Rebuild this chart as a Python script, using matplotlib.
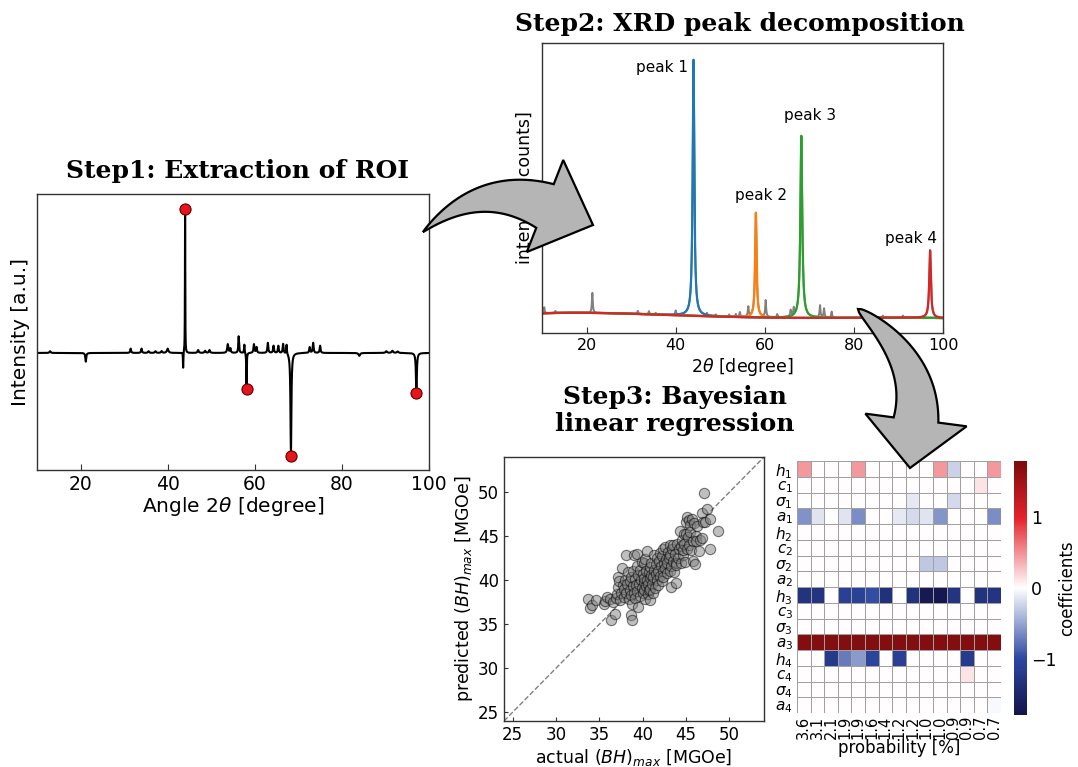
import numpy as np
import matplotlib
matplotlib.use("Agg")
import matplotlib.pyplot as plt
from matplotlib.path import Path
from matplotlib.patches import PathPatch
from matplotlib.colors import LinearSegmentedColormap

W, H, DPI = 1078, 767, 100

# ---------------- Step 1: extracted ROI signal ----------------
# signed peaks: centre [deg], amplitude [a.u.], half-width [deg]
roi_centers = [13.0, 21.2, 31.5, 34.0, 35.6, 37.2, 38.6, 40.0, 43.55, 44.0, 47.0,
               48.6, 49.6, 53.8, 54.4, 56.3, 57.6, 58.1, 59.8, 60.4, 63.0, 64.3,
               65.4, 66.5, 67.3, 68.3, 72.6, 73.4, 75.0, 84.0, 90.2, 91.6, 92.8, 97.1]
roi_amps = [0.012, -0.06, 0.03, 0.03, 0.012, 0.012, 0.012, 0.03, -0.11, 1.0, 0.02,
            0.015, 0.02, 0.06, 0.03, 0.115, 0.06, -0.25, 0.06, 0.04, 0.07, 0.05,
            0.05, 0.065, 0.065, -0.715, 0.04, 0.07, 0.05, -0.02, 0.012, 0.015, 0.01, -0.28]
roi_widths = [0.15, 0.12, 0.12, 0.12, 0.15, 0.15, 0.15, 0.2, 0.05, 0.04, 0.15,
              0.15, 0.15, 0.15, 0.12, 0.1, 0.08, 0.06, 0.12, 0.12, 0.12, 0.12,
              0.12, 0.12, 0.08, 0.12, 0.12, 0.12, 0.12, 0.2, 0.2, 0.2, 0.2, 0.12]
roi_selected = [44.0, 58.1, 68.3, 97.1]

# ---------------- Step 2: XRD pattern and fitted peaks ----------------
bg_knots_x = [10, 20, 28, 40, 55, 70, 85, 100]
bg_knots_y = [196, 203, 198, 172, 160, 154, 150, 150]
peak_names = ["peak 1", "peak 2", "peak 3", "peak 4"]
peak_centers = [44.0, 58.0, 68.2, 97.1]
peak_heights = [2560, 1045, 1820, 675]
peak_widths = [0.22, 0.2, 0.25, 0.22]
peak_colors = ["#1f77b4", "#ff7f0e", "#2ca02c", "#d62728"]
minor_centers = [10.5, 13.0, 21.3, 31.5, 34.0, 35.5, 40.0, 47.0, 49.0, 52.0, 53.5,
                 54.4, 56.3, 60.2, 62.8, 65.8, 66.5, 72.4, 73.3, 75.0, 83.8, 86.5, 91.0]
minor_heights = [60, 20, 200, 30, 30, 15, 40, 20, 15, 20, 25,
                 45, 95, 165, 30, 60, 70, 120, 90, 60, 30, 20, 20]

# ---------------- Step 3: regression ----------------
actual_bh = [33.7, 33.9, 34.2, 34.6, 35.5, 35.6, 35.9, 36.2, 36.4, 36.6, 36.8, 36.9, 37.0,
             37.1, 37.1, 37.3, 37.4, 37.5, 37.6, 37.7, 37.8, 37.9, 38.0, 38.1, 38.1, 38.2,
             38.3, 38.4, 38.5, 38.5, 38.6, 38.7, 38.7, 38.8, 38.8, 38.9, 38.9, 39.0, 39.0,
             39.1, 39.1, 39.2, 39.3, 39.3, 39.4, 39.5, 39.5, 39.6, 39.7, 39.7, 39.8, 39.9,
             39.9, 40.0, 40.0, 40.1, 40.1, 40.2, 40.2, 40.3, 40.3, 40.4, 40.4, 40.5, 40.5,
             40.6, 40.6, 40.7, 40.7, 40.8, 40.8, 40.9, 40.9, 41.0, 41.0,
             41.1, 41.2, 41.2, 41.3, 41.3, 41.4, 41.5, 41.5, 41.6, 41.7, 41.8, 41.8, 41.9,
             42.0, 42.0, 42.1, 42.2, 42.2, 42.3, 42.4, 42.4, 42.5, 42.6, 42.6, 42.7, 42.8,
             42.8, 42.9, 43.0,
             43.1, 43.1, 43.2, 43.3, 43.3, 43.4, 43.5, 43.5, 43.6, 43.7, 43.8, 43.8, 43.9,
             44.0, 44.1, 44.2, 44.3, 44.4, 44.4, 44.5, 44.6, 44.7, 44.8, 44.8, 44.9, 45.0,
             45.0, 45.1, 45.1, 45.2, 45.3, 45.4, 45.5, 45.5, 45.6, 45.7, 45.8, 45.8, 45.9,
             46.0, 46.1, 46.2, 46.3, 46.5, 46.6, 46.9, 46.9, 47.0, 47.1, 47.2, 47.4, 47.8,
             47.8, 48.7]
predicted_bh = [37.9, 36.8, 37.2, 37.8, 37.3, 37.6, 38.1, 37.9, 35.5, 37.5, 36.2, 38.0, 38.4,
                39.2, 40.4, 39.9, 37.7, 38.6, 41.4, 39.4, 38.1, 39.0, 40.0, 38.5, 42.9, 39.6,
                40.9, 37.9, 38.9, 39.9, 38.3, 40.4, 36.1, 37.3, 35.5, 39.3, 41.0, 42.9, 38.6,
                40.1, 38.0, 39.4, 41.6, 43.0, 38.8, 40.6, 37.0, 39.6, 38.2, 41.2, 40.0, 39.1,
                42.1, 38.6, 40.7, 39.8, 41.9, 38.9, 40.3, 42.4, 37.9, 39.3, 41.1, 43.3, 40.0,
                38.4, 39.6, 40.9, 38.9, 41.5, 37.8, 40.2, 39.0, 40.6, 42.0,
                39.6, 38.5, 40.4, 42.9, 41.2, 39.1, 40.7, 41.8, 40.0, 42.5, 39.4, 41.0, 42.2,
                40.5, 43.1, 41.6, 39.9, 42.7, 41.1, 43.5, 40.4, 42.0, 41.4, 43.8, 42.4, 40.8,
                41.9, 43.2, 42.5,
                41.0, 44.0, 42.9, 41.6, 39.2, 43.6, 42.2, 44.0, 40.9, 43.0, 39.7, 42.0, 41.7,
                44.1, 42.5, 43.5, 45.6, 41.9, 43.9, 44.6, 42.9, 43.4, 45.3, 44.1, 42.1, 46.6,
                45.2, 43.5, 47.2, 44.9, 46.8, 44.0, 46.3, 45.5, 43.4, 46.9, 44.5, 42.2, 46.5,
                41.8, 45.0, 44.4, 46.2, 43.3, 44.6, 44.8, 47.6, 46.6, 49.9, 46.6, 48.1, 47.0,
                43.6, 45.6]

# posterior coefficients per candidate model (columns, sorted by probability)
prob_labels = ["3.6", "3.1", "2.1", "1.9", "1.9", "1.6", "1.4", "1.2", "1.2",
               "1.0", "1.0", "0.9", "0.9", "0.7", "0.7"]
param_labels = [r"$h_1$", r"$c_1$", r"$\sigma_1$", r"$a_1$",
                r"$h_2$", r"$c_2$", r"$\sigma_2$", r"$a_2$",
                r"$h_3$", r"$c_3$", r"$\sigma_3$", r"$a_3$",
                r"$h_4$", r"$c_4$", r"$\sigma_4$", r"$a_4$"]
coef_h1 = [0.45, 0, 0, 0, 0.45, 0, 0, 0, 0, 0, 0.45, -0.25, 0, 0, 0.45]
coef_c1 = [0, 0, 0, 0, 0, 0, 0, 0, 0, 0, 0, 0, 0, 0.12, 0]
coef_s1 = [0, 0, 0, 0, 0, 0, 0, 0, -0.12, 0, 0, -0.2, 0, 0, 0]
coef_a1 = [-0.6, -0.15, 0, -0.15, -0.62, 0, 0, -0.12, -0.2, -0.15, -0.58, 0, 0, 0, -0.62]
coef_h2 = [0] * 15
coef_c2 = [0] * 15
coef_s2 = [0, 0, 0, 0, 0, 0, 0, 0, 0, -0.3, -0.3, 0, 0, 0, 0]
coef_a2 = [0] * 15
coef_h3 = [-1.32, -1.3, 0, -1.12, -1.1, -0.98, -1.35, 0, -1.33, -1.72, -1.75, -1.28, 0, -1.32, -1.28]
coef_c3 = [0] * 15
coef_s3 = [0] * 15
coef_a3 = [1.72] * 15
coef_h4 = [0, 0, -1.22, -0.72, -0.55, -1.05, 0, -1.12, 0, 0, 0, 0, -1.2, 0, 0]
coef_c4 = [0, 0, 0, 0, 0, 0, 0, 0, 0, 0, 0, 0, 0.12, 0, 0]
coef_s4 = [0] * 15
coef_a4 = [0, 0, 0, 0, 0, 0, 0, 0, 0, 0, 0, 0, 0, 0, -0.04]


def lorentz(x, c, a, w):
    return a / (1.0 + ((x - c) / w) ** 2)


def px_box(left, top, right, bottom):
    return [left / W, 1 - bottom / H, (right - left) / W, (bottom - top) / H]


TITLE = dict(family="DejaVu Serif", fontweight="bold", fontsize=18, ha="center",
             va="baseline")
SPINE = "#333333"

fig = plt.figure(figsize=(W / DPI, H / DPI), dpi=DPI)
fig.patch.set_facecolor("white")


def style_spines(ax):
    for s in ax.spines.values():
        s.set_color(SPINE)
        s.set_linewidth(1.0)


# ---------- Step 1 ----------
x1 = np.round(np.arange(10.0, 100.0001, 0.01), 2)
roi = np.zeros_like(x1)
for c, a, w in zip(roi_centers, roi_amps, roi_widths):
    roi += lorentz(x1, c, a, w)
ax1 = fig.add_axes(px_box(37, 194, 429, 470))
ax1.plot(x1, roi, color="black", lw=1.5, zorder=2)
sel_idx = [int(np.argmin(np.abs(x1 - c))) for c in roi_selected]
ax1.plot(x1[sel_idx], roi[sel_idx], "o", ms=8, mfc="#e8141c", mec="#5a0000",
         mew=0.8, zorder=3, clip_on=False)
ax1.set_xlim(10, 100)
ax1.set_ylim(-0.81, 1.10)
ax1.set_yticks([])
ax1.set_xticks([20, 40, 60, 80, 100])
ax1.tick_params(axis="x", direction="in", length=4, labelsize=13.5, color=SPINE)
ax1.set_xlabel(r"Angle 2$\theta$ [degree]", fontsize=14.5, labelpad=1)
ax1.set_ylabel("Intensity [a.u.]", fontsize=14.5, labelpad=5)
style_spines(ax1)
fig.text(237 / W, 1 - 178 / H, "Step1: Extraction of ROI", **TITLE)

# ---------- Step 2 ----------
x2 = np.arange(10.0, 100.0001, 0.02)
bg_coef = np.polyfit(bg_knots_x, bg_knots_y, 4)
bg = np.polyval(bg_coef, x2)
observed = bg.copy()
for c, h, w in zip(peak_centers, peak_heights, peak_widths):
    observed += lorentz(x2, c, h, w)
for c, h in zip(minor_centers, minor_heights):
    observed += lorentz(x2, c, h, 0.12)
ax2 = fig.add_axes(px_box(542, 43, 943, 333))
ax2.plot(x2, observed, color="gray", lw=1.4, zorder=1)
for c, h, w, col in zip(peak_centers, peak_heights, peak_widths, peak_colors):
    ax2.plot(x2, bg + lorentz(x2, c, h, w), color=col, lw=1.6, zorder=2)
bg_at = [float(np.polyval(bg_coef, c)) for c in peak_centers]
label_fs = 11
ax2.text(peak_centers[0] - 1.3, bg_at[0] + peak_heights[0], peak_names[0],
         ha="right", va="top", fontsize=label_fs)
ax2.text(peak_centers[1] + 1.2, bg_at[1] + peak_heights[1] + 100, peak_names[1],
         ha="center", va="bottom", fontsize=label_fs)
ax2.text(peak_centers[2] + 1.9, bg_at[2] + peak_heights[2] + 130, peak_names[2],
         ha="center", va="bottom", fontsize=label_fs)
ax2.text(peak_centers[3] + 1.5, bg_at[3] + peak_heights[3] + 40, peak_names[3],
         ha="right", va="bottom", fontsize=label_fs)
ax2.set_xlim(10, 100)
ax2.set_ylim(0, 2900)
ax2.set_yticks([])
ax2.set_xticks([20, 40, 60, 80, 100])
ax2.tick_params(axis="x", direction="in", length=4, labelsize=11.5, color=SPINE)
ax2.set_xlabel(r"2$\theta$ [degree]", fontsize=12.5, labelpad=2)
ax2.set_ylabel("intensity [counts]", fontsize=12.5, labelpad=6)
style_spines(ax2)
fig.text(740 / W, 1 - 31 / H, "Step2: XRD peak decomposition", **TITLE)

# ---------- Step 3: parity plot ----------
ax3 = fig.add_axes(px_box(504, 457, 764, 721))
lims = (24, 54)
ax3.plot(lims, lims, ls="--", color="gray", lw=1.0, zorder=1)
ax3.scatter(actual_bh, predicted_bh, s=55, facecolor="gray", edgecolor="black",
            linewidths=0.8, alpha=0.5, zorder=2)
ax3.set_xlim(lims)
ax3.set_ylim(lims)
ax3.set_xticks([25, 30, 35, 40, 45, 50])
ax3.set_yticks([25, 30, 35, 40, 45, 50])
ax3.tick_params(direction="in", length=3, labelsize=12, color=SPINE)
ax3.set_xlabel(r"actual $(BH)_{max}$ [MGOe]", fontsize=12.5, labelpad=2)
ax3.set_ylabel(r"predicted $(BH)_{max}$ [MGOe]", fontsize=12.5, labelpad=2)
style_spines(ax3)
fig.text(675 / W, 1 - 404 / H, "Step3: Bayesian", **TITLE)
fig.text(675 / W, 1 - 431 / H, "linear regression", **TITLE)

# ---------- Step 3: coefficient map ----------
coef = np.array([coef_h1, coef_c1, coef_s1, coef_a1, coef_h2, coef_c2, coef_s2, coef_a2,
                 coef_h3, coef_c3, coef_s3, coef_a3, coef_h4, coef_c4, coef_s4, coef_a4])
cmap = LinearSegmentedColormap.from_list(
    "coef", [(0.0, "#14144a"), (0.22, "#2c48a2"), (0.5, "#ffffff"),
             (0.78, "#e4202a"), (1.0, "#7a0c0c")])
ax4 = fig.add_axes(px_box(797, 461, 1001, 713))
mesh = ax4.pcolormesh(np.arange(coef.shape[1] + 1), np.arange(coef.shape[0] + 1), coef,
                      cmap=cmap, vmin=-1.8, vmax=1.8, edgecolors="#a0a0a0", linewidth=0.7)
ax4.set_xlim(0, coef.shape[1])
ax4.set_ylim(coef.shape[0], 0)
ax4.set_xticks(np.arange(coef.shape[1]) + 0.5)
ax4.set_xticklabels(prob_labels, rotation=90, fontsize=10.5)
ax4.set_yticks(np.arange(coef.shape[0]) + 0.5)
ax4.set_yticklabels(param_labels, fontsize=11)
ax4.tick_params(length=0, pad=2)
ax4.tick_params(axis="y", pad=3)
ax4.set_xlabel("probability [%]", fontsize=12, labelpad=0)
for s in ax4.spines.values():
    s.set_visible(False)

cax = fig.add_axes(px_box(1014, 461, 1027, 715))
cb = fig.colorbar(mesh, cax=cax, ticks=[-1, 0, 1])
cb.outline.set_visible(False)
cb.ax.tick_params(length=0, labelsize=12.5, pad=3)
cb.set_label("coefficients", fontsize=12, labelpad=1)


# ---------- curved arrows between the steps ----------
def curved_arrow(tail, ctrl, base, tip, body_w, head_w, taper):
    p0, p1, p2 = (np.asarray(v, float) for v in (tail, ctrl, base))
    t = np.linspace(0, 1, 60)[:, None]
    pts = (1 - t) ** 2 * p0 + 2 * (1 - t) * t * p1 + t ** 2 * p2
    der = 2 * (1 - t) * (p1 - p0) + 2 * t * (p2 - p1)
    der /= np.linalg.norm(der, axis=1, keepdims=True)
    nrm = np.column_stack([-der[:, 1], der[:, 0]])
    half = 0.5 * body_w * t[:, 0] ** taper
    left = pts + nrm * half[:, None]
    right = pts - nrm * half[:, None]
    d = np.asarray(tip, float) - p2
    d /= np.linalg.norm(d)
    nh = np.array([-d[1], d[0]])
    hl = p2 + nh * head_w / 2
    hr = p2 - nh * head_w / 2
    outline = np.vstack([left, hl, tip, hr, right[::-1]])
    verts = np.column_stack([outline[:, 0] / W, 1 - outline[:, 1] / H])
    codes = [Path.MOVETO] + [Path.LINETO] * (len(verts) - 1)
    verts = np.vstack([verts, verts[:1]])
    codes.append(Path.CLOSEPOLY)
    patch = PathPatch(Path(verts, codes), facecolor="#b5b5b5", edgecolor="black",
                      lw=1.6, transform=fig.transFigure, zorder=10, joinstyle="miter")
    fig.add_artist(patch)


curved_arrow(tail=(423, 232), ctrl=(480, 180), base=(545, 206), tip=(593, 225),
             body_w=47, head_w=99, taper=0.9)
curved_arrow(tail=(858, 309), ctrl=(923, 360), base=(916, 420), tip=(910, 468),
             body_w=45, head_w=102, taper=0.6)

fig.savefig("out.png", dpi=DPI)
